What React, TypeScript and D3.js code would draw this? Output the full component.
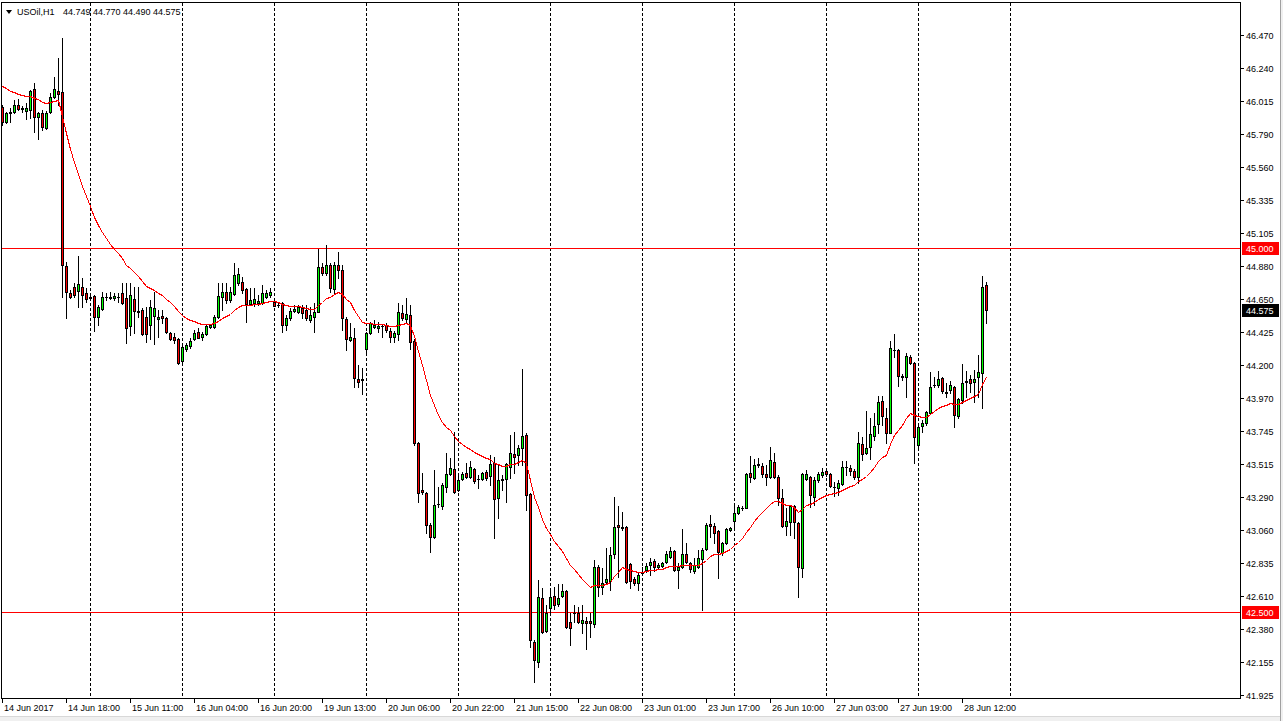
// USOil H1 candlestick chart (MT4 style) drawn with D3 scales
import * as d3 from 'd3'

const width = 1283
const height = 721

// OHLC per hourly bar, 14 Jun 2017 02:00 -> 28 Jun 2017 18:00
const open = [
  45.974, 45.871, 45.933, 45.940, 45.988, 45.964, 45.949, 45.953, 46.098, 45.905,
  45.933, 45.830, 45.940, 46.043, 46.084, 46.077, 44.879, 44.693, 44.734, 44.707,
  44.734, 44.693, 44.666, 44.672, 44.528, 44.583, 44.666, 44.662, 44.659, 44.666,
  44.693, 44.659, 44.466, 44.652, 44.569, 44.576, 44.528, 44.473, 44.535, 44.514,
  44.538, 44.521, 44.418, 44.390, 44.376, 44.225, 44.307, 44.328, 44.376, 44.425,
  44.390, 44.411, 44.459, 44.459, 44.528, 44.666, 44.700, 44.645, 44.686, 44.762,
  44.769, 44.721, 44.617, 44.624, 44.624, 44.624, 44.666, 44.679, 44.631, 44.611,
  44.624, 44.473, 44.521, 44.569, 44.562, 44.590, 44.576, 44.507, 44.528, 44.562,
  44.872, 44.831, 44.886, 44.721, 44.886, 44.852, 44.514, 44.369, 44.383, 44.101,
  44.101, 44.307, 44.418, 44.459, 44.452, 44.466, 44.473, 44.431, 44.390, 44.411,
  44.555, 44.514, 44.542, 44.363, 43.660, 43.336, 43.316, 43.095, 43.013, 43.240,
  43.226, 43.357, 43.447, 43.481, 43.336, 43.412, 43.454, 43.426, 43.481, 43.412,
  43.412, 43.460, 43.433, 43.522, 43.281, 43.405, 43.412, 43.495, 43.584, 43.577,
  43.626, 43.715, 43.309, 42.290, 42.152, 42.593, 42.365, 42.524, 42.606, 42.551,
  42.606, 42.641, 42.427, 42.489, 42.489, 42.420, 42.434, 42.434, 42.414, 42.806,
  42.668, 42.703, 42.710, 42.896, 43.095, 43.082, 43.082, 42.827, 42.723, 42.696,
  42.765, 42.785, 42.820, 42.847, 42.806, 42.813, 42.840, 42.875, 42.916, 42.785,
  42.806, 42.896, 42.834, 42.778, 42.806, 42.861, 42.930, 43.102, 43.088, 43.054,
  42.902, 42.971, 43.061, 43.123, 43.178, 43.212, 43.212, 43.454, 43.419, 43.512,
  43.502, 43.447, 43.426, 43.529, 43.426, 43.281, 43.088, 43.116, 43.226, 43.109,
  42.799, 43.412, 43.426, 43.288, 43.405, 43.440, 43.467, 43.447, 43.357, 43.350,
  43.378, 43.495, 43.488, 43.467, 43.426, 43.653, 43.591, 43.633, 43.708, 43.791,
  43.949, 43.832, 43.729, 44.301, 44.301, 44.121, 44.115, 44.252, 44.211, 43.646,
  43.777, 43.798, 43.867, 44.060, 44.060, 44.108, 44.011, 44.025, 44.046, 43.846,
  43.956, 44.080, 44.101, 44.080, 44.115, 44.142, 44.749,
]

const high = [
  45.988, 45.940, 45.967, 46.022, 46.029, 45.981, 46.002, 46.091, 46.139, 45.940,
  45.953, 45.947, 46.071, 46.181, 46.312, 46.449, 44.907, 44.714, 44.762, 44.948,
  44.796, 44.728, 44.679, 44.679, 44.611, 44.700, 44.693, 44.700, 44.693, 44.693,
  44.762, 44.762, 44.762, 44.734, 44.734, 44.590, 44.597, 44.645, 44.700, 44.576,
  44.576, 44.528, 44.425, 44.418, 44.383, 44.328, 44.349, 44.383, 44.438, 44.452,
  44.425, 44.473, 44.480, 44.542, 44.762, 44.762, 44.762, 44.734, 44.900, 44.865,
  44.803, 44.728, 44.728, 44.728, 44.679, 44.748, 44.714, 44.728, 44.659, 44.631,
  44.631, 44.542, 44.590, 44.611, 44.611, 44.611, 44.611, 44.597, 44.624, 44.996,
  44.900, 45.024, 44.900, 44.907, 44.975, 44.886, 44.528, 44.487, 44.452, 44.197,
  44.177, 44.425, 44.493, 44.507, 44.493, 44.480, 44.487, 44.452, 44.431, 44.624,
  44.611, 44.659, 44.611, 44.376, 43.667, 43.454, 43.323, 43.109, 43.474, 43.357,
  43.385, 43.591, 43.557, 43.736, 43.440, 43.460, 43.522, 43.536, 43.488, 43.440,
  43.460, 43.474, 43.577, 43.564, 43.515, 43.440, 43.522, 43.715, 43.736, 43.646,
  44.170, 43.729, 43.316, 42.303, 42.716, 42.661, 42.544, 42.648, 42.668, 42.689,
  42.689, 42.648, 42.489, 42.544, 42.531, 42.544, 42.462, 42.489, 42.854, 42.820,
  42.799, 42.937, 42.944, 43.288, 43.226, 43.185, 43.088, 42.834, 42.737, 42.765,
  42.806, 42.834, 42.868, 42.861, 42.834, 42.840, 42.916, 42.944, 42.923, 42.834,
  43.068, 42.971, 42.840, 42.868, 42.923, 42.937, 43.109, 43.164, 43.109, 43.061,
  42.978, 43.075, 43.082, 43.233, 43.233, 43.226, 43.454, 43.571, 43.550, 43.557,
  43.522, 43.509, 43.633, 43.591, 43.440, 43.343, 43.212, 43.233, 43.233, 43.116,
  43.454, 43.474, 43.433, 43.426, 43.460, 43.488, 43.474, 43.454, 43.392, 43.405,
  43.536, 43.536, 43.509, 43.481, 43.736, 43.701, 43.881, 43.832, 43.867, 43.984,
  43.984, 43.901, 44.363, 44.411, 44.307, 44.135, 44.280, 44.266, 44.218, 43.784,
  43.818, 43.881, 44.149, 44.115, 44.156, 44.115, 44.073, 44.087, 44.053, 43.970,
  44.204, 44.156, 44.128, 44.163, 44.266, 44.810, 44.770,
]

const low = [
  45.850, 45.864, 45.871, 45.933, 45.953, 45.940, 45.891, 45.898, 45.802, 45.754,
  45.816, 45.823, 45.933, 46.036, 45.988, 44.666, 44.521, 44.659, 44.666, 44.597,
  44.597, 44.631, 44.652, 44.431, 44.473, 44.576, 44.645, 44.652, 44.645, 44.631,
  44.617, 44.349, 44.404, 44.418, 44.528, 44.404, 44.356, 44.376, 44.342, 44.390,
  44.487, 44.418, 44.369, 44.349, 44.204, 44.211, 44.294, 44.314, 44.369, 44.383,
  44.369, 44.404, 44.452, 44.452, 44.521, 44.576, 44.624, 44.631, 44.679, 44.748,
  44.693, 44.493, 44.611, 44.604, 44.611, 44.617, 44.659, 44.666, 44.604, 44.597,
  44.425, 44.438, 44.507, 44.562, 44.555, 44.521, 44.507, 44.493, 44.425, 44.560,
  44.817, 44.817, 44.700, 44.693, 44.796, 44.438, 44.301, 44.363, 44.046, 44.046,
  43.998, 44.280, 44.411, 44.452, 44.425, 44.390, 44.425, 44.356, 44.356, 44.369,
  44.507, 44.493, 44.307, 43.646, 43.254, 43.309, 43.040, 42.909, 43.006, 43.219,
  43.206, 43.323, 43.440, 43.316, 43.330, 43.405, 43.419, 43.419, 43.385, 43.350,
  43.405, 43.405, 43.371, 43.006, 43.144, 43.336, 43.254, 43.419, 43.454, 43.509,
  43.509, 43.199, 42.255, 42.014, 42.117, 42.352, 42.359, 42.489, 42.517, 42.537,
  42.599, 42.386, 42.269, 42.427, 42.420, 42.352, 42.241, 42.324, 42.393, 42.606,
  42.620, 42.696, 42.648, 42.868, 42.737, 43.061, 42.696, 42.661, 42.682, 42.648,
  42.758, 42.772, 42.751, 42.778, 42.799, 42.806, 42.834, 42.868, 42.778, 42.661,
  42.799, 42.834, 42.772, 42.765, 42.799, 42.510, 42.923, 43.013, 42.971, 42.730,
  42.889, 42.964, 43.054, 43.082, 43.171, 43.199, 43.210, 43.392, 43.412, 43.495,
  43.426, 43.371, 43.419, 43.419, 43.233, 43.082, 43.026, 43.026, 43.006, 42.599,
  42.737, 43.405, 43.219, 43.233, 43.392, 43.426, 43.433, 43.357, 43.295, 43.302,
  43.371, 43.440, 43.440, 43.412, 43.385, 43.543, 43.584, 43.550, 43.681, 43.729,
  43.784, 43.660, 43.727, 44.252, 44.053, 44.094, 43.977, 44.204, 43.522, 43.626,
  43.736, 43.784, 43.860, 44.046, 44.046, 44.004, 43.977, 44.004, 43.770, 43.832,
  43.936, 43.977, 44.011, 43.943, 43.977, 43.901, 44.490,
]

const close = [
  45.871, 45.933, 45.940, 45.988, 45.960, 45.960, 45.967, 46.084, 45.905, 45.933,
  45.836, 45.933, 46.043, 46.098, 46.064, 44.886, 44.700, 44.666, 44.679, 44.755,
  44.679, 44.652, 44.662, 44.528, 44.597, 44.666, 44.664, 44.666, 44.672, 44.669,
  44.624, 44.452, 44.679, 44.569, 44.562, 44.411, 44.411, 44.597, 44.590, 44.528,
  44.524, 44.425, 44.376, 44.369, 44.211, 44.321, 44.335, 44.363, 44.418, 44.383,
  44.411, 44.466, 44.473, 44.528, 44.672, 44.700, 44.645, 44.700, 44.817, 44.824,
  44.714, 44.617, 44.645, 44.652, 44.638, 44.693, 44.693, 44.700, 44.604, 44.609,
  44.473, 44.521, 44.569, 44.583, 44.597, 44.555, 44.521, 44.542, 44.562, 44.872,
  44.831, 44.886, 44.728, 44.886, 44.852, 44.521, 44.376, 44.390, 44.108, 44.080,
  44.097, 44.418, 44.487, 44.473, 44.466, 44.464, 44.438, 44.390, 44.418, 44.562,
  44.521, 44.549, 44.356, 43.660, 43.316, 43.323, 43.095, 43.013, 43.233, 43.238,
  43.371, 43.447, 43.488, 43.323, 43.405, 43.447, 43.426, 43.495, 43.398, 43.410,
  43.454, 43.419, 43.515, 43.275, 43.405, 43.412, 43.515, 43.591, 43.564, 43.626,
  43.708, 43.302, 42.303, 42.165, 42.599, 42.359, 42.489, 42.599, 42.544, 42.593,
  42.641, 42.393, 42.386, 42.487, 42.427, 42.441, 42.420, 42.420, 42.806, 42.668,
  42.696, 42.723, 42.889, 43.082, 43.082, 43.078, 42.703, 42.710, 42.696, 42.751,
  42.772, 42.813, 42.840, 42.806, 42.820, 42.834, 42.896, 42.916, 42.785, 42.806,
  42.896, 42.840, 42.792, 42.820, 42.868, 42.923, 43.095, 43.088, 43.040, 42.909,
  42.971, 43.068, 43.075, 43.178, 43.219, 43.214, 43.447, 43.426, 43.509, 43.515,
  43.447, 43.426, 43.543, 43.426, 43.281, 43.088, 43.123, 43.226, 43.116, 42.806,
  43.447, 43.447, 43.302, 43.405, 43.447, 43.460, 43.447, 43.364, 43.355, 43.385,
  43.495, 43.498, 43.467, 43.426, 43.660, 43.584, 43.626, 43.722, 43.777, 43.943,
  43.846, 43.729, 44.314, 44.299, 44.121, 44.115, 44.259, 44.211, 43.701, 43.770,
  43.798, 43.874, 44.046, 44.058, 44.101, 44.018, 44.008, 44.060, 43.853, 43.963,
  44.073, 44.087, 44.073, 44.101, 44.149, 44.734, 44.575,
]

const priceTicks = [
  46.470, 46.240, 46.015, 45.790, 45.560, 45.335, 45.105, 44.880, 44.650, 44.425, 44.200,
  43.970, 43.745, 43.515, 43.290, 43.060, 42.835, 42.610, 42.380, 42.155, 41.925,
]

const timeLabels = [
  '14 Jun 2017', '14 Jun 18:00', '15 Jun 11:00', '16 Jun 04:00', '16 Jun 20:00',
  '19 Jun 13:00', '20 Jun 06:00', '20 Jun 22:00', '21 Jun 15:00', '22 Jun 08:00',
  '23 Jun 01:00', '23 Jun 17:00', '26 Jun 10:00', '27 Jun 03:00', '27 Jun 19:00', '28 Jun 12:00',
]
const labelStep = 16 // bars between time labels

// first bar of each trading day -> dotted separators
const dayStarts = [22, 45, 68, 91, 114, 137, 160, 183, 206, 229, 252]

const levels = [45.0, 42.5]
const maPeriod = 20
const maStart = 46.12 // MA value at the first visible bar

const symbol = 'USOil,H1'
const bullColor = '#00ff00'
const bearColor = '#ff0000'
const font = '"Liberation Sans", Arial, sans-serif'

export default function App() {
  const plotRight = 1240
  const plotBottom = 698
  const plotTop = 3

  const x = d3.scaleLinear().domain([0, 246]).range([2, 986])
  const y = d3.scaleLinear().domain([41.925, 46.47]).range([695, 35])
  const py = (v: number) => Math.round(y(v))

  // exponential moving average of closes
  const alpha = 2 / (maPeriod + 1)
  const ma: number[] = []
  close.forEach((c, i) => {
    ma.push(i === 0 ? maStart : ma[i - 1] + alpha * (c - ma[i - 1]))
  })

  const maLine = d3.line<number>()
    .x((_, i) => Math.round(x(i)) + 0.5)
    .y(d => py(d) + 0.5)

  const last = close.length - 1
  const header = [open[last], high[last], low[last], close[last]].map(v => v.toFixed(3)).join(' ')

  return (
    <svg
      width={width}
      height={height}
      style={{ position: 'absolute', left: 0, top: 0, display: 'block', background: '#fff' }}
      fontFamily={font}
    >
      <rect x={0} y={0} width={width} height={height} fill="#fff" />

      {/* window edges */}
      <rect x={1280} y={0} width={3} height={height} fill="#f0f0f0" />
      <line x1={1280.5} x2={1280.5} y1={0} y2={height} stroke="#a0a0a0" />
      <rect x={0} y={717} width={1280} height={4} fill="#f0f0f0" />
      <line x1={0} x2={1280} y1={716.5} y2={716.5} stroke="#d8d8d8" />

      {/* day separators */}
      {dayStarts.map(d => (
        <line
          key={'g' + d}
          x1={Math.round(x(d)) + 0.5}
          x2={Math.round(x(d)) + 0.5}
          y1={plotTop}
          y2={plotBottom}
          stroke="#000"
          strokeDasharray="3,2"
          shapeRendering="crispEdges"
        />
      ))}

      {/* horizontal levels */}
      {levels.map(l => (
        <line
          key={'l' + l}
          x1={2}
          x2={plotRight}
          y1={py(l) + 0.5}
          y2={py(l) + 0.5}
          stroke="#ff0000"
          shapeRendering="crispEdges"
        />
      ))}

      {/* candles */}
      <g shapeRendering="crispEdges">
        {close.map((c, i) => {
          const px = Math.round(x(i))
          const yo = py(open[i])
          const yc = py(c)
          const yh = py(high[i])
          const yl = py(low[i])
          const top = Math.min(yo, yc)
          const bot = Math.max(yo, yc)
          const col = c >= open[i] ? bullColor : bearColor
          return (
            <g key={i}>
              <rect x={px} y={yh} width={1} height={yl - yh + 1} fill="#000" />
              <rect x={px - 1} y={top} width={3} height={bot - top + 1} fill="#000" />
              {bot - top >= 2 && (
                <rect x={px} y={top + 1} width={1} height={bot - top - 1} fill={col} />
              )}
            </g>
          )
        })}
      </g>

      {/* moving average */}
      <path d={maLine(ma) || ''} fill="none" stroke="#ff0000" strokeWidth={1} shapeRendering="crispEdges" />

      {/* frame */}
      <rect
        x={1.5}
        y={plotTop - 0.5}
        width={plotRight - 1}
        height={plotBottom - plotTop + 1}
        fill="none"
        stroke="#000"
        shapeRendering="crispEdges"
      />

      {/* price axis */}
      {priceTicks.map(t => (
        <g key={'p' + t}>
          <line x1={plotRight} x2={plotRight + 4} y1={py(t) + 0.5} y2={py(t) + 0.5} stroke="#000" />
          <text x={plotRight + 6} y={py(t) + 4} fontSize={9} fill="#000">
            {t.toFixed(3)}
          </text>
        </g>
      ))}

      {levels.map(l => (
        <g key={'lb' + l}>
          <rect x={plotRight + 2} y={py(l) - 6} width={37} height={13} fill="#ff0000" />
          <text x={plotRight + 6} y={py(l) + 4} fontSize={9} fill="#fff">
            {l.toFixed(3)}
          </text>
        </g>
      ))}

      <rect x={plotRight + 2} y={py(close[last]) - 6} width={37} height={13} fill="#000" />
      <text x={plotRight + 6} y={py(close[last]) + 4} fontSize={9} fill="#fff">
        {close[last].toFixed(3)}
      </text>

      {/* time axis */}
      {timeLabels.map((lab, k) => {
        const px = Math.round(x(k * labelStep))
        return (
          <g key={'t' + k}>
            <line x1={px + 0.5} x2={px + 0.5} y1={plotBottom} y2={plotBottom + 5} stroke="#000" />
            <text x={px + 2} y={711} fontSize={9} fill="#000">
              {lab}
            </text>
          </g>
        )
      })}

      {/* header */}
      <path d="M6,10 L12,10 L9,14 Z" fill="#000" />
      <text x={17} y={15} fontSize={9} fill="#000">{symbol}</text>
      <text x={63} y={15} fontSize={9} fill="#000">{header}</text>
    </svg>
  )
}
